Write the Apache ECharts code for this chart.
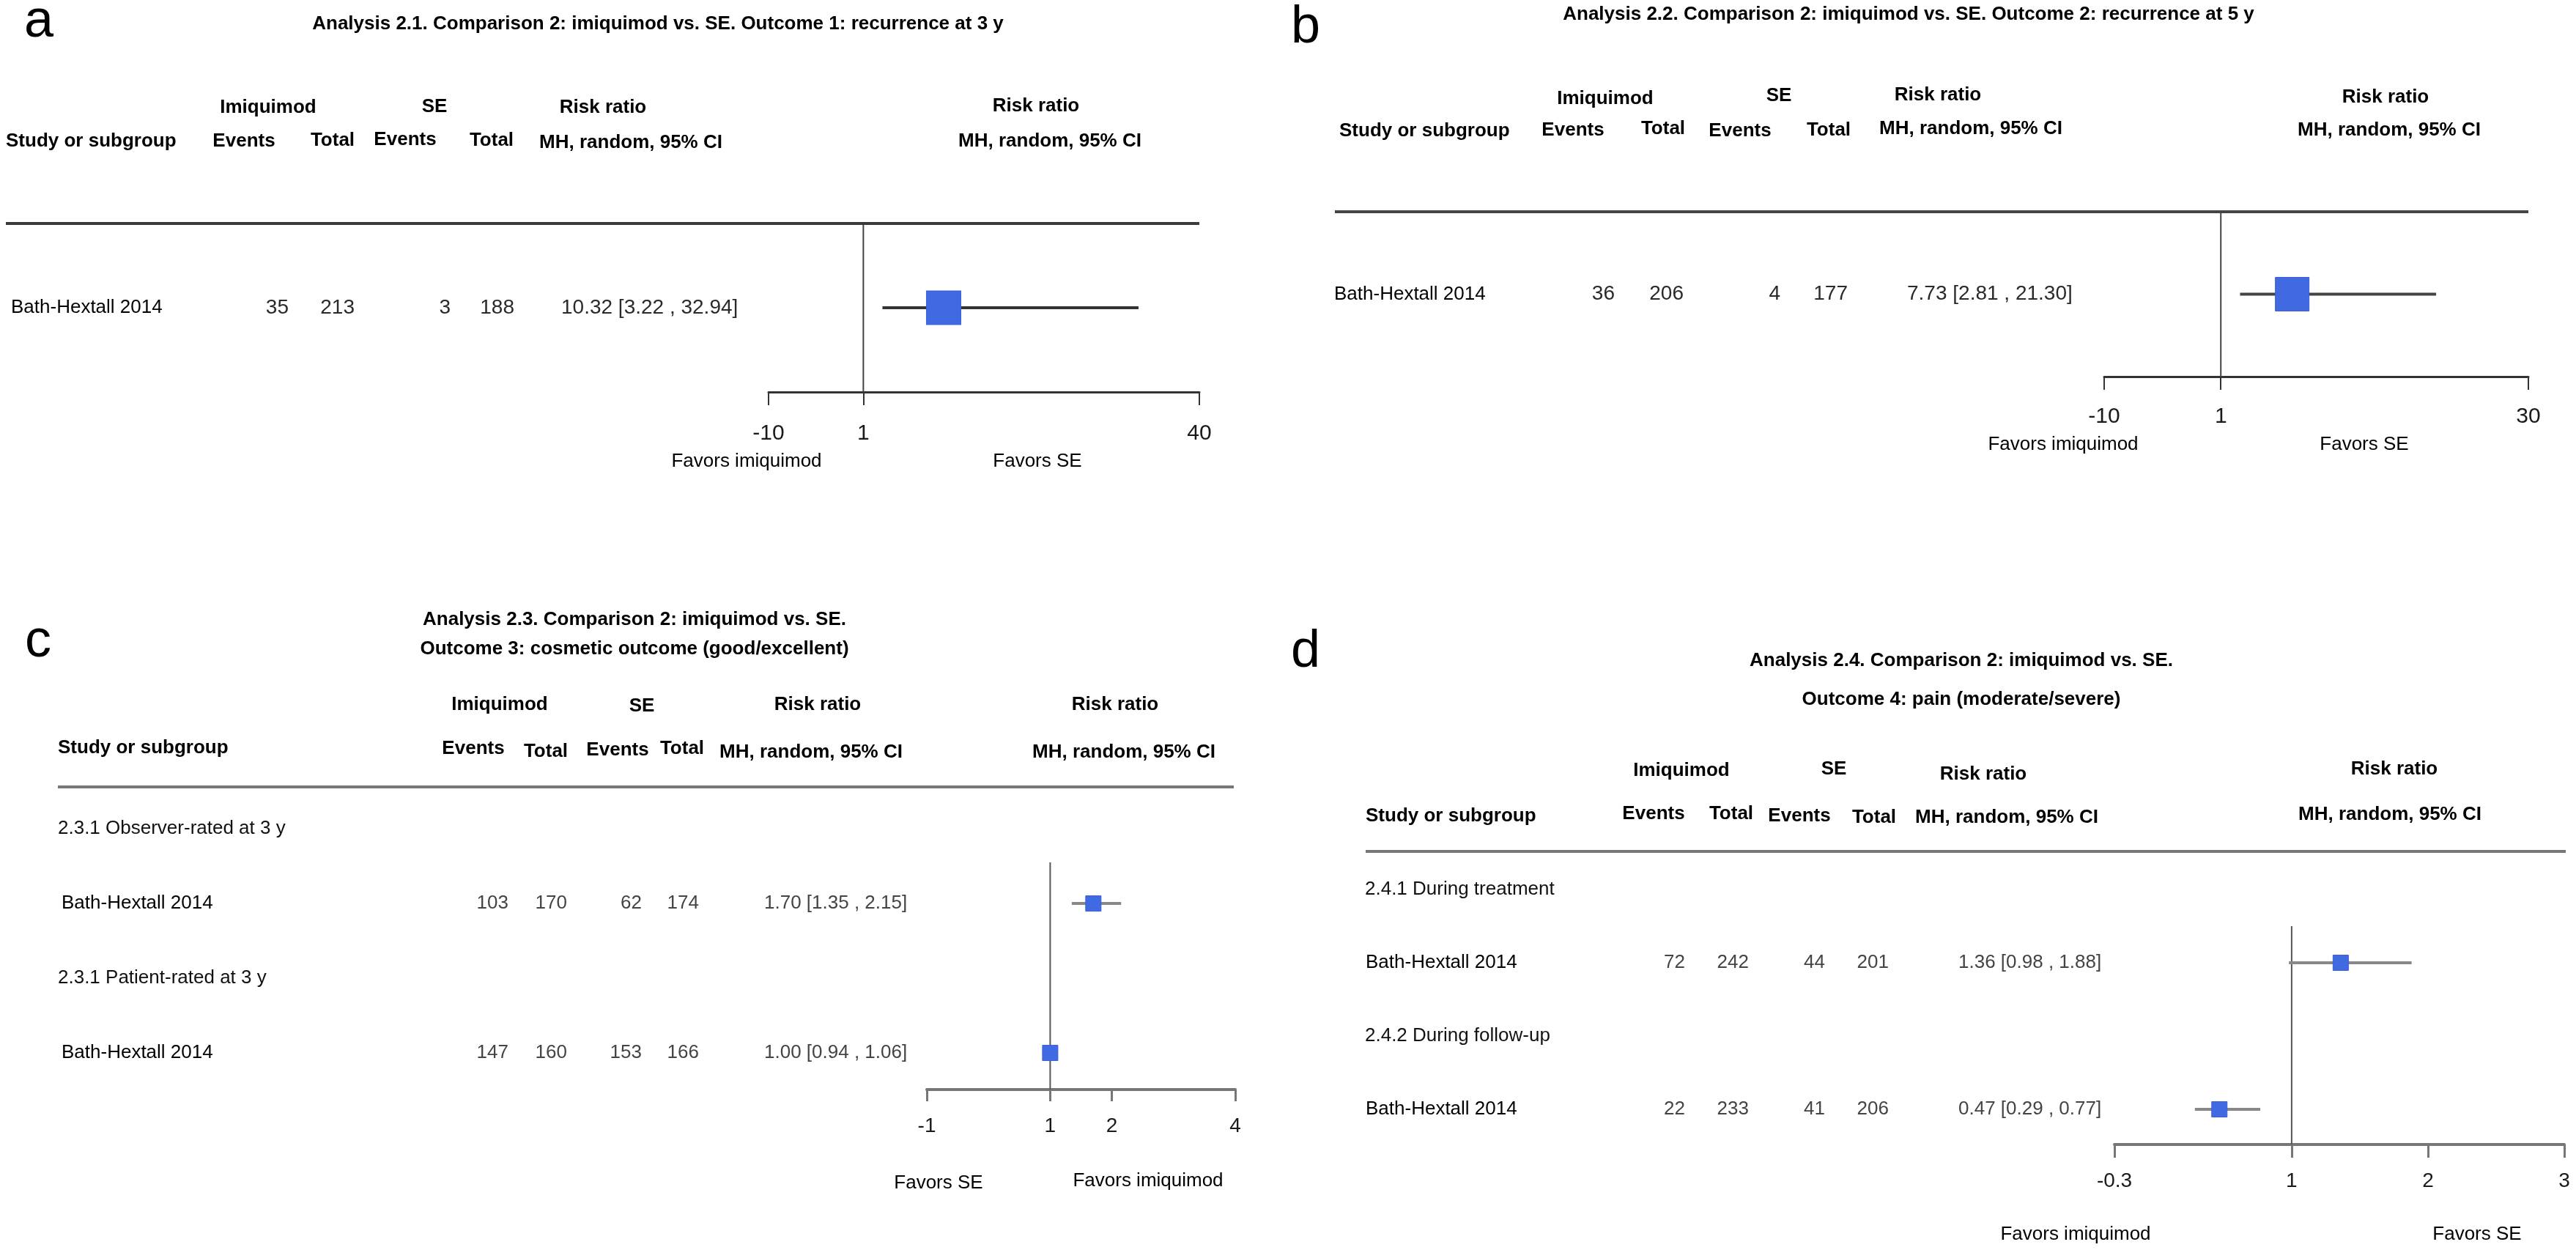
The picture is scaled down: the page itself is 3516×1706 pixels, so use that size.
<!DOCTYPE html>
<html><head><meta charset="utf-8">
<script src="https://cdn.jsdelivr.net/npm/echarts@6/dist/echarts.min.js"></script>
<style>html,body{margin:0;padding:0;background:#fff}#c{width:3516px;height:1706px}</style>
</head><body><div id="c"></div>
<script>
// ---------------- DATA ----------------
// Panel a
const aTitle = ['Analysis 2.1. Comparison 2: imiquimod vs. SE. Outcome 1: recurrence at 3 y'];
const aSubgroups = [];
const aStudies = ['Bath-Hextall 2014'];
const aImiEvents = [35];
const aImiTotal = [213];
const aSeEvents = [3];
const aSeTotal = [188];
const aRR = [10.32];
const aLo = [3.22];
const aHi = [32.94];
const aTicks = [-10, 1, 40];
const aFavors = ['Favors imiquimod', 'Favors SE'];
// Panel b
const bTitle = ['Analysis 2.2. Comparison 2: imiquimod vs. SE. Outcome 2: recurrence at 5 y'];
const bSubgroups = [];
const bStudies = ['Bath-Hextall 2014'];
const bImiEvents = [36];
const bImiTotal = [206];
const bSeEvents = [4];
const bSeTotal = [177];
const bRR = [7.73];
const bLo = [2.81];
const bHi = [21.30];
const bTicks = [-10, 1, 30];
const bFavors = ['Favors imiquimod', 'Favors SE'];
// Panel c
const cTitle = ['Analysis 2.3. Comparison 2: imiquimod vs. SE.', 'Outcome 3: cosmetic outcome (good/excellent)'];
const cSubgroups = ['2.3.1 Observer-rated at 3 y', '2.3.1 Patient-rated at 3 y'];
const cStudies = ['Bath-Hextall 2014', 'Bath-Hextall 2014'];
const cImiEvents = [103, 147];
const cImiTotal = [170, 160];
const cSeEvents = [62, 153];
const cSeTotal = [174, 166];
const cRR = [1.70, 1.00];
const cLo = [1.35, 0.94];
const cHi = [2.15, 1.06];
const cTicks = [-1, 1, 2, 4];
const cFavors = ['Favors SE', 'Favors imiquimod'];
// Panel d
const dTitle = ['Analysis 2.4. Comparison 2: imiquimod vs. SE.', 'Outcome 4: pain (moderate/severe)'];
const dSubgroups = ['2.4.1 During treatment', '2.4.2 During follow-up'];
const dStudies = ['Bath-Hextall 2014', 'Bath-Hextall 2014'];
const dImiEvents = [72, 22];
const dImiTotal = [242, 233];
const dSeEvents = [44, 41];
const dSeTotal = [201, 206];
const dRR = [1.36, 0.47];
const dLo = [0.98, 0.29];
const dHi = [1.88, 0.77];
const dTicks = [-0.3, 1, 2, 3];
const dFavors = ['Favors imiquimod', 'Favors SE'];

// ---------------- LAYOUT ----------------
const FONT = '"Liberation Sans", Arial, Helvetica, sans-serif';
const panels = [
  { letter:'a', data:{title:aTitle, subs:aSubgroups, studies:aStudies, ie:aImiEvents, it:aImiTotal, se:aSeEvents, st:aSeTotal, rr:aRR, lo:aLo, hi:aHi, ticks:aTicks, favors:aFavors},
    letterPos:[33,66], titlePos:[[898,33]],
    grid:{left:1049, right:1637, top:305, bottom:535}, ymin:0, ymax:2, vTop:0,
    hline:{x1:8, x2:1637, color:'#3a3a3a'},
    hdr:{imi:[366,147], se:[593,146], rr:[823,147], rrR:[1414,145], study:[8,193], ev1:[333,193], tot1:[454,192], ev2:[553,191], tot2:[671,192], mh:[861,195], mhR:[1433,193]},
    cols:{name:15, sub:8, ev1:394, tot1:484, ev2:615, tot2:702, ci:766}, numFont:28, numColor:'#2a2a2a',
    favors:[[1019,630],[1416,630]], tickFont:30, labelMargin:42, tickLen:18,
    sq:[47,46], wColor:'#333', wWidth:4, axisColor:'#333', axisWidth:3, vColor:'#444' },
  { letter:'b', data:{title:bTitle, subs:bSubgroups, studies:bStudies, ie:bImiEvents, it:bImiTotal, se:bSeEvents, st:bSeTotal, rr:bRR, lo:bLo, hi:bHi, ticks:bTicks, favors:bFavors},
    letterPos:[1762,74], titlePos:[[2605,20]],
    grid:{left:2872, right:3451, top:289, bottom:514}, ymin:0, ymax:2, vTop:0,
    hline:{x1:1822, x2:3451, color:'#444'},
    hdr:{imi:[2191,135], se:[2428,131], rr:[2645,130], rrR:[3256,133], study:[1828,179], ev1:[2147,178], tot1:[2270,176], ev2:[2375,179], tot2:[2496,178], mh:[2690,176], mhR:[3261,178]},
    cols:{name:1821, sub:1821, ev1:2204, tot1:2298, ev2:2430, tot2:2522, ci:2603}, numFont:28, numColor:'#2a2a2a',
    favors:[[2816,607],[3227,607]], tickFont:30, labelMargin:40, tickLen:18,
    sq:[46,46], wColor:'#444', wWidth:4, axisColor:'#333', axisWidth:3, vColor:'#444' },
  { letter:'c', data:{title:cTitle, subs:cSubgroups, studies:cStudies, ie:cImiEvents, it:cImiTotal, se:cSeEvents, st:cSeTotal, rr:cRR, lo:cLo, hi:cHi, ticks:cTicks, favors:cFavors},
    letterPos:[34,912], titlePos:[[866,846],[866,886]],
    grid:{left:1265, right:1686, top:1074, bottom:1487}, ymin:0.44, ymax:4.49, vTop:1.45,
    hline:{x1:79, x2:1684, color:'#777'},
    hdr:{imi:[682,962], se:[876,964], rr:[1116,962], rrR:[1522,962], study:[79,1021], ev1:[646,1022], tot1:[745,1026], ev2:[843,1024], tot2:[931,1022], mh:[1107,1027], mhR:[1534,1027]},
    cols:{name:84, sub:79, ev1:694, tot1:774, ev2:876, tot2:954, ci:1043}, numFont:26, numColor:'#444',
    favors:[[1281,1615],[1567,1612]], tickFont:28, labelMargin:36, tickLen:16,
    sq:[21,21], wColor:'#888', wWidth:4, axisColor:'#777', axisWidth:4, vColor:'#555' },
  { letter:'d', data:{title:dTitle, subs:dSubgroups, studies:dStudies, ie:dImiEvents, it:dImiTotal, se:dSeEvents, st:dSeTotal, rr:dRR, lo:dLo, hi:dHi, ticks:dTicks, favors:dFavors},
    letterPos:[1762,926], titlePos:[[2677,902],[2677,955]],
    grid:{left:2886, right:3500, top:1162, bottom:1562}, ymin:0.48, ymax:4.48, vTop:1.5,
    hline:{x1:1864, x2:3502, color:'#777'},
    hdr:{imi:[2295,1052], se:[2503,1050], rr:[2707,1057], rrR:[3268,1050], study:[1864,1114], ev1:[2257,1111], tot1:[2363,1111], ev2:[2456,1114], tot2:[2558,1116], mh:[2739,1116], mhR:[3262,1112]},
    cols:{name:1864, sub:1863, ev1:2300, tot1:2387, ev2:2491, tot2:2578, ci:2673}, numFont:26, numColor:'#444',
    favors:[[2833,1685],[3381,1685]], tickFont:28, labelMargin:36, tickLen:18,
    sq:[21,21], wColor:'#888', wWidth:4, axisColor:'#777', axisWidth:4, vColor:'#555' }
];

// row index of each study (subgroup header rows come first when present)
function studyRow(p, i){ return p.data.subs.length ? 2*i+2 : i+1; }
function subRow(p, i){ return 2*i+1; }

const grids = [], xAxes = [], yAxes = [], series = [];
panels.forEach((p, k) => {
  const g = p.grid;
  grids.push({left:g.left, top:g.top, width:g.right-g.left, height:g.bottom-g.top, containLabel:false});
  xAxes.push({type:'value', gridIndex:k, min:p.data.ticks[0], max:p.data.ticks[p.data.ticks.length-1], position:'bottom',
    axisLine:{show:true, onZero:false, lineStyle:{color:p.axisColor, width:p.axisWidth}},
    axisTick:{show:true, customValues:p.data.ticks, length:p.tickLen, lineStyle:{color:p.axisColor, width:p.axisWidth-1}},
    axisLabel:{show:true, customValues:p.data.ticks, margin:p.labelMargin, fontSize:p.tickFont, fontFamily:FONT, color:'#1a1a1a'},
    splitLine:{show:false}});
  yAxes.push({type:'value', gridIndex:k, min:p.ymin, max:p.ymax, inverse:true, show:false});
  // line of no effect
  series.push({type:'line', xAxisIndex:k, yAxisIndex:k, data:[[1, p.vTop],[1, p.ymax]], symbol:'none', silent:true,
    lineStyle:{color:p.vColor, width:2}, z:1});
  // confidence intervals
  const w = p.wColor, lw = p.wWidth;
  series.push({type:'custom', xAxisIndex:k, yAxisIndex:k, silent:true, z:2,
    data:p.data.rr.map((v,i)=>[p.data.lo[i], p.data.hi[i], studyRow(p,i)]),
    encode:{x:[0,1], y:2},
    renderItem:function(params, api){
      const y = api.value(2);
      const a = api.coord([api.value(0), y]);
      const b = api.coord([api.value(1), y]);
      return {type:'line', shape:{x1:a[0], y1:a[1], x2:b[0], y2:b[1]}, style:{stroke:w, lineWidth:lw}};
    }});
  // point estimates
  series.push({type:'scatter', xAxisIndex:k, yAxisIndex:k, silent:true, z:3,
    data:p.data.rr.map((v,i)=>[v, studyRow(p,i)]),
    symbol:'rect', symbolSize:p.sq, itemStyle:{color:'#4169E1', opacity:1, borderColor:'#3a5fd8', borderWidth:1}});
});

const chart = echarts.init(document.getElementById('c'));
chart.setOption({animation:false, backgroundColor:'#fff', grid:grids, xAxis:xAxes, yAxis:yAxes, series:series});

function T(x, y, text, font, align, color, base){
  return {type:'text', x:x, y:y, silent:true, z:10,
    style:{text:String(text), font:font, fill:color||'#000', textAlign:align||'left', align:align||'left',
      textVerticalAlign:base||'middle', verticalAlign:base||'middle'}};
}
const BOLD = 'bold 26px ' + FONT;
const REG = '26px ' + FONT;
const els = [];
panels.forEach((p, k) => {
  const D = p.data, h = p.hdr, c = p.cols;
  const rowY = r => chart.convertToPixel({xAxisIndex:k, yAxisIndex:k}, [D.ticks[0], r])[1];
  els.push(T(p.letterPos[0], p.letterPos[1], p.letter, '72px ' + FONT, 'left', '#000', 'bottom'));
  D.title.forEach((t, i) => els.push(T(p.titlePos[i][0], p.titlePos[i][1], t, BOLD, 'center')));
  els.push(T(h.imi[0], h.imi[1], 'Imiquimod', BOLD, 'center'));
  els.push(T(h.se[0], h.se[1], 'SE', BOLD, 'center'));
  els.push(T(h.rr[0], h.rr[1], 'Risk ratio', BOLD, 'center'));
  els.push(T(h.rrR[0], h.rrR[1], 'Risk ratio', BOLD, 'center'));
  els.push(T(h.study[0], h.study[1], 'Study or subgroup', BOLD, 'left'));
  els.push(T(h.ev1[0], h.ev1[1], 'Events', BOLD, 'center'));
  els.push(T(h.tot1[0], h.tot1[1], 'Total', BOLD, 'center'));
  els.push(T(h.ev2[0], h.ev2[1], 'Events', BOLD, 'center'));
  els.push(T(h.tot2[0], h.tot2[1], 'Total', BOLD, 'center'));
  els.push(T(h.mh[0], h.mh[1], 'MH, random, 95% CI', BOLD, 'center'));
  els.push(T(h.mhR[0], h.mhR[1], 'MH, random, 95% CI', BOLD, 'center'));
  // table rule
  const ly = chart.convertToPixel({xAxisIndex:k, yAxisIndex:k}, [D.ticks[0], p.ymin])[1];
  els.push({type:'line', silent:true, z:5, shape:{x1:p.hline.x1, y1:ly, x2:p.hline.x2, y2:ly}, style:{stroke:p.hline.color, lineWidth:4}});
  D.subs.forEach((s, i) => els.push(T(c.sub, rowY(subRow(p,i)), s, REG, 'left', '#111')));
  const NF = p.numFont + 'px ' + FONT;
  D.studies.forEach((s, i) => {
    const y = rowY(studyRow(p,i));
    els.push(T(c.name, y, s, REG, 'left', '#000'));
    els.push(T(c.ev1, y, D.ie[i], NF, 'right', p.numColor));
    els.push(T(c.tot1, y, D.it[i], NF, 'right', p.numColor));
    els.push(T(c.ev2, y, D.se[i], NF, 'right', p.numColor));
    els.push(T(c.tot2, y, D.st[i], NF, 'right', p.numColor));
    els.push(T(c.ci, y, D.rr[i].toFixed(2) + ' [' + D.lo[i].toFixed(2) + ' , ' + D.hi[i].toFixed(2) + ']', NF, 'left', p.numColor));
  });
  els.push(T(p.favors[0][0], p.favors[0][1], D.favors[0], REG, 'center', '#000'));
  els.push(T(p.favors[1][0], p.favors[1][1], D.favors[1], REG, 'center', '#000'));
});
chart.setOption({graphic:{elements:els}});
</script></body></html>
